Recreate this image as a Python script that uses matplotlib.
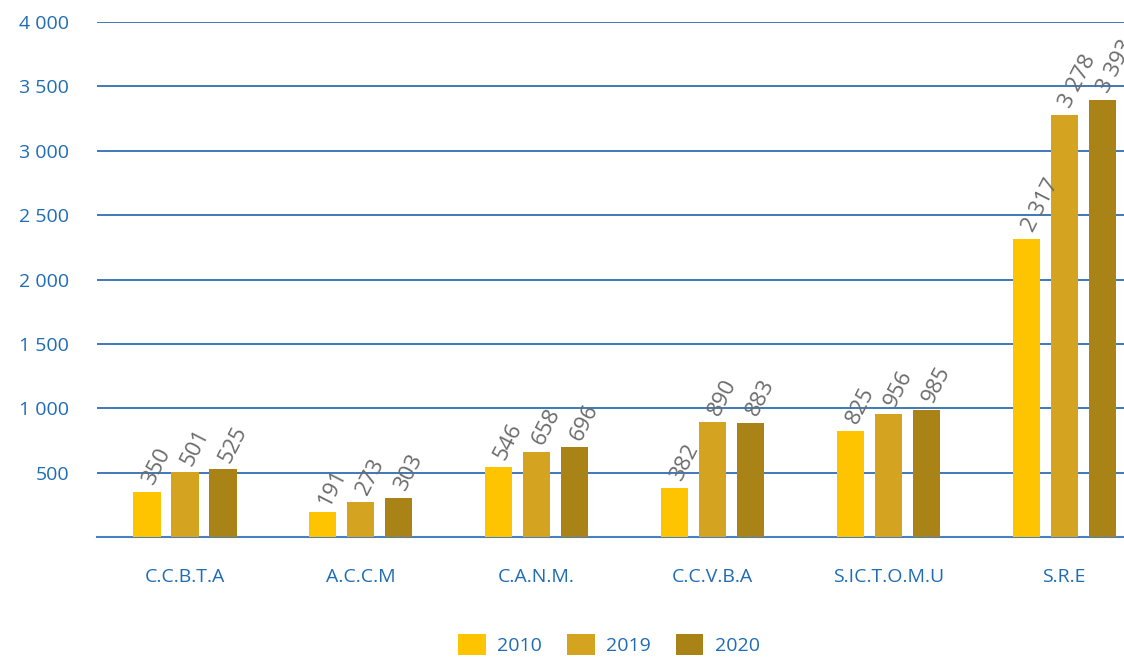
import matplotlib
matplotlib.use("Agg")
import matplotlib.pyplot as plt
import numpy as np

categories = ["C.C.B.T.A", "A.C.C.M", "C.A.N.M.", "C.C.V.B.A", "S.IC.T.O.M.U", "S.R.E"]
years = ["2010", "2019", "2020"]
v2010 = [350, 191, 546, 382, 825, 2317]
v2019 = [501, 273, 658, 890, 956, 3278]
v2020 = [525, 303, 696, 883, 985, 3393]
yticks = [500, 1000, 1500, 2000, 2500, 3000, 3500, 4000]
ytick_labels = ["500", "1 000", "1 500", "2 000", "2 500", "3 000", "3 500", "4 000"]

colors = ["#FFC400", "#D4A421", "#A98316"]
blue = "#1f62ad"
label_blue = "#1f6cb5"

plt.rcParams['font.family'] = ['Open Sans', 'DejaVu Sans']

fig = plt.figure(figsize=(11.24, 6.61), dpi=100)
ax = fig.add_axes([0.0863, 0.1876, 0.9137, 0.7791])

x = np.arange(len(categories))
offset = 0.216
width = 0.155
series = [v2010, v2019, v2020]
for i, (vals, col, yr) in enumerate(zip(series, colors, years)):
    pos = x + (i - 1) * offset
    ax.bar(pos, vals, width=width, color=col, label=yr, zorder=3)
    for px, v in zip(pos, vals):
        s = f"{v:,}".replace(",", " ")
        ax.annotate(s, (px, v), xytext=(1, 6), textcoords="offset points",
                    rotation=63, rotation_mode="anchor", ha="left", va="center",
                    fontsize=16, color="#6b6b6b", zorder=4, annotation_clip=False)

ax.set_xlim(-0.5, 5.34)
ax.set_ylim(0, 4000)
ax.set_yticks(yticks)
ax.set_yticklabels(ytick_labels)
ax.set_xticks(x)
ax.set_xticklabels(categories)
ax.tick_params(axis='both', length=0, colors=label_blue, labelsize=14)
ax.tick_params(axis='y', pad=20)
ax.tick_params(axis='x', pad=22)
ax.grid(axis='y', color=blue, linewidth=1.2, zorder=0)
for sp in ["top", "right", "left"]:
    ax.spines[sp].set_visible(False)
ax.spines["bottom"].set_color("#4a80c0")
ax.spines["bottom"].set_linewidth(1.5)

leg = fig.legend(loc="lower center", bbox_to_anchor=(0.542, -0.018), ncol=3, frameon=False,
                 fontsize=14, handlelength=1.4, handleheight=1.3, columnspacing=1.3,
                 handletextpad=0.6)
for t in leg.get_texts():
    t.set_color(label_blue)

fig.savefig("out.png", dpi=100)
